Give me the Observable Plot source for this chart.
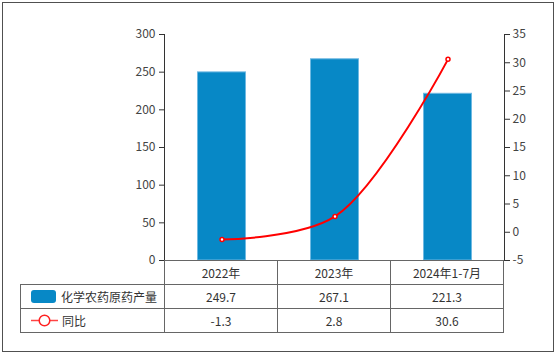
<!DOCTYPE html>
<html>
<head>
<meta charset="utf-8">
<script src="https://cdn.jsdelivr.net/npm/d3@7"></script>
<script src="https://cdn.jsdelivr.net/npm/@observablehq/plot@0.6"></script>
<style>
  html, body { margin: 0; padding: 0; background: #fff; }
  body { width: 554px; height: 352px; position: relative; overflow: hidden;
         font-family: "Noto Sans CJK SC", "Noto Sans", sans-serif; }
  #frame { position: absolute; left: 2px; top: 2px; width: 552px; height: 350px;
           box-sizing: border-box; border: 1px solid #505050; }
  #chart { position: absolute; left: 0; top: 0; }
  #table { position: absolute; display: grid; font-size: 12px; color: #333; }
  #table div { box-sizing: border-box; display: flex; align-items: center; justify-content: center; border-color: #666; border-style: solid; border-width: 0; }
  #table .lab { justify-content: flex-start; padding-left: 10px; }
  .sw { display: inline-block; width: 25px; height: 13px; border-radius: 3px; background: #0788c6; margin-right: 5px; }
</style>
</head>
<body>
<div id="frame"></div>
<div id="chart"></div>
<div id="table"></div>
<script>
// ---- data ----
const categories = ["2022年", "2023年", "2024年1-7月"];
const output = [249.7, 267.1, 221.3];
const yoy = [-1.3, 2.8, 30.6];
const seriesNames = ["化学农药原药产量", "同比"];
const leftTicks = [0, 50, 100, 150, 200, 250, 300];
const rightTicks = [-5, 0, 5, 10, 15, 20, 25, 30, 35];

const data = categories.map((c, i) => ({cat: c, output: output[i], yoy: yoy[i]}));
const y2 = d3.scaleLinear([-5, 35], [0, 300]);

const W = 554, H = 261;
const plot = Plot.plot({
  width: W, height: H,
  marginLeft: 164, marginRight: 50, marginTop: 34, marginBottom: 1,
  style: {fontSize: "12px", fontFamily: "'Noto Sans CJK SC', 'Noto Sans', sans-serif", color: "#333", background: "transparent", overflow: "visible"},
  x: {domain: categories, paddingInner: 0.568, paddingOuter: 0.284, axis: null},
  y: {domain: [0, 300]},
  marks: [
    Plot.barY(data, {x: "cat", y: "output", fill: "#0788c6", stroke: "#6fb9e2", strokeWidth: 1, insetLeft: 0.5, insetRight: 0.5}),
    Plot.frame({anchor: "left", stroke: "#333"}),
    Plot.frame({anchor: "right", stroke: "#333"}),
    Plot.axisY(leftTicks, {anchor: "left", tickSize: 5, tickPadding: 4, label: null, fill: "#444", stroke: "#333"}),
    Plot.axisY(rightTicks, {y: y2, anchor: "right", tickSize: 5, tickPadding: 3, label: null, tickFormat: d => String(d), fill: "#444", stroke: "#333"}),
    Plot.line(data, {x: "cat", y: d => y2(d.yoy), stroke: "#f00", strokeWidth: 2, curve: "catmull-rom"}),
    Plot.dot(data, {x: "cat", y: d => y2(d.yoy), r: 2, fill: "#fff", stroke: "#f00", strokeWidth: 1.5})
  ]
});
document.getElementById("chart").appendChild(plot);

// ---- data table under the chart, aligned to the x scale ----
const xs = plot.scale("x");
const step = xs.step;
const x0 = 164, tableLeft = 20;
const bounds = [tableLeft, x0].concat(categories.map((c, i) => Math.round(x0 + step * (i + 1))));
const widths = [];
for (let i = 0; i < bounds.length - 1; i++) widths.push(bounds[i + 1] - bounds[i] + (i === 0 ? 1 : 0));
const tbl = document.getElementById("table");
tbl.style.left = tableLeft + "px";
tbl.style.top = "260px";
tbl.style.gridTemplateColumns = widths.map(w => w + "px").join(" ");
tbl.style.gridTemplateRows = "25px 24px 24px";

function cell(html, styles, cls) {
  const d = document.createElement("div");
  d.innerHTML = html;
  Object.assign(d.style, styles);
  if (cls) d.className = cls;
  tbl.appendChild(d);
}
// header row
cell("", {borderRightWidth: "1px", borderBottomWidth: "1px"});
categories.forEach(c => cell(c, {borderTopWidth: "1px", borderRightWidth: "1px", borderBottomWidth: "1px"}));
// bar series row
cell('<span class="sw"></span>' + seriesNames[0], {borderLeftWidth: "1px", borderRightWidth: "1px", borderBottomWidth: "1px"}, "lab");
output.forEach(v => cell(v.toFixed(1), {borderRightWidth: "1px", borderBottomWidth: "1px"}));
// line series row
cell('<svg width="27" height="13" style="margin-right:4px"><line x1="0" x2="27" y1="6.5" y2="6.5" stroke="#f44" stroke-width="1.5"/><circle cx="13.5" cy="6.5" r="5.3" fill="#fff" stroke="#f22" stroke-width="1.5"/></svg>' + seriesNames[1],
     {borderLeftWidth: "1px", borderRightWidth: "1px", borderBottomWidth: "1px"}, "lab");
yoy.forEach(v => cell(v.toFixed(1), {borderRightWidth: "1px", borderBottomWidth: "1px"}));
</script>
</body>
</html>
